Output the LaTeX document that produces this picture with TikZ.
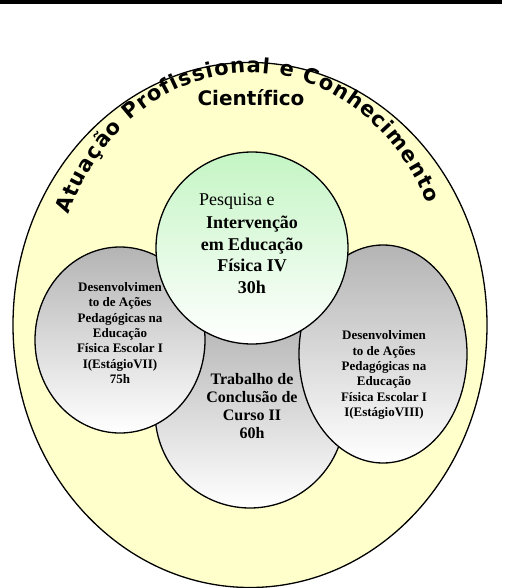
\documentclass[tikz,border=0pt]{standalone}
\usepackage{fontspec}
\setmainfont{Liberation Serif}
\newfontfamily\blk[Ligatures=NoCommon]{DejaVu Sans Bold}
\usetikzlibrary{shapes.geometric,decorations.text}
\definecolor{ylw}{HTML}{FFFFCC}
\definecolor{grn}{HTML}{C4F5C4}
\definecolor{gry}{HTML}{B4B4B4}
\tikzset{
  x=1pt,y=1pt,
  blob/.style={ellipse, draw=black, line width=1.3pt, inner sep=0pt},
  grayblob/.style={blob, top color=gry, bottom color=white},
  sidetext/.style={align=center, font=\fontsize{13}{15.3}\selectfont\bfseries, inner sep=0pt},
  midtext/.style={align=center, font=\fontsize{16}{18}\selectfont\bfseries, inner sep=0pt},
  greentext/.style={align=center, font=\fontsize{18}{21.5}\selectfont\bfseries, inner sep=0pt},
  heading/.style={inner sep=0pt, font=\blk\fontsize{20}{20}\selectfont},
  arctext/.style={decorate, decoration={text along path, text align={fit to path},
    text={|\blk\fontsize{21}{21}\selectfont|Atuação Profissional e Conhecimento}}},
}
\begin{document}
\begin{tikzpicture}
\useasboundingbox (0,0) rectangle (508,-588);
% top rule
\fill[black] (0,0) rectangle (502,-4.5);
% outer ellipse
\node[blob, fill=ylw, minimum width=474pt, minimum height=525pt] (outer) at (250,-325) {};
% title along arc
\path[arctext] (250,-300) ++(158:195.3 and 227.3) arc[start angle=158, end angle=25, x radius=195.3, y radius=227.3];
\node[heading] (cient) at (251,-98) {Científico};
% bottom middle
\node[grayblob, minimum width=190pt, minimum height=192pt] (mid) at (250,-412) {};
% left
\node[grayblob, minimum width=170pt, minimum height=186pt] (left) at (120,-340) {};
% right
\node[grayblob, minimum width=168pt, minimum height=218pt] (right) at (383,-354) {};
% green circle
\node[blob, top color=grn, bottom color=white, minimum width=192pt, minimum height=192pt] (green) at (252,-248) {};
% texts
\node[inner sep=0pt, anchor=west, font=\fontsize{18}{21.5}\selectfont] (pesq) at (199,-201) {Pesquisa e};
\node[greentext] (gtxt) at (252,-255) {Intervenção\\em Educação\\Física IV\\30h};
\node[sidetext] (ltxt) at (120,-333) {Desenvolvimen\\to de Ações\\Pedagógicas na\\Educação\\Física Escolar I\\I(EstágioVII)\\75h};
\node[sidetext] (rtxt) at (384,-375) {Desenvolvimen\\to de Ações\\Pedagógicas na\\Educação\\Física Escolar I\\I(EstágioVIII)};
\node[midtext] (mtxt) at (252,-406) {Trabalho de\\Conclusão de\\Curso II\\60h};
\end{tikzpicture}
\end{document}
